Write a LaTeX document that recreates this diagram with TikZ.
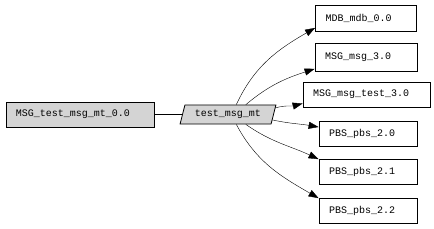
\documentclass[tikz,border=0pt]{standalone}
\usepackage{fontspec}
\setmonofont{Liberation Mono}
\usetikzlibrary{arrows.meta,shapes.geometric}

\begin{document}
\begin{tikzpicture}[
    x=1pt, y=1pt,
    box/.style={draw, rectangle, line width=0.8pt, inner xsep=10pt, inner ysep=0pt, minimum height=25pt, align=left},
    para/.style={draw, trapezium, trapezium left angle=67, trapezium right angle=113, trapezium stretches=true, line width=0.8pt, minimum height=19pt, minimum width=96pt, inner sep=0pt, fill=black!17},
    >={Triangle[length=10pt, width=7pt]},
    font=\ttfamily\fontsize{10}{12}\selectfont
]
    \useasboundingbox (0,0) rectangle (434,228);

    % 节点定义
    \node[box, fill=black!17, text width=128pt] (test) at (80,113.5) {MSG\_test\_msg\_mt\_0.0};
    \node[para] (mt) at (228,113.5) {test\_msg\_mt};

    % 右侧节点
    \node[box, text width=81pt, minimum height=26pt] (mdb) at (366,210) {MDB\_mdb\_0.0};
    \node[box, text width=82pt, minimum height=28pt] (msg) at (366,171) {MSG\_msg\_3.0};
    \node[box, text width=107pt] (msgtest) at (366.5,133.5) {MSG\_msg\_test\_3.0};
    \node[box, text width=78pt] (pbsa) at (368,94) {PBS\_pbs\_2.0};
    \node[box, text width=78pt] (pbsb) at (368,56.5) {PBS\_pbs\_2.1};
    \node[box, text width=78pt] (pbsc) at (368,17.5) {PBS\_pbs\_2.2};

    % 连线
    \draw[line width=0.8pt] (test) -- (mt);
    \draw[->] (mt.50) to[out=65, in=210] (mdb.191);
    \draw[->] (mt.29) to[out=40, in=198] (msg.193);
    \draw[->] (mt.8) to[out=15, in=195] (msgtest.188);
    \draw[->] (mt.-7) to[out=-12, in=170] (pbsa.172);
    \draw[->] (mt.-29) to[out=-35, in=155] (pbsb.166);
    \draw[->] (mt.-50) to[out=-62, in=150] (pbsc.166);

\end{tikzpicture}
\end{document}
